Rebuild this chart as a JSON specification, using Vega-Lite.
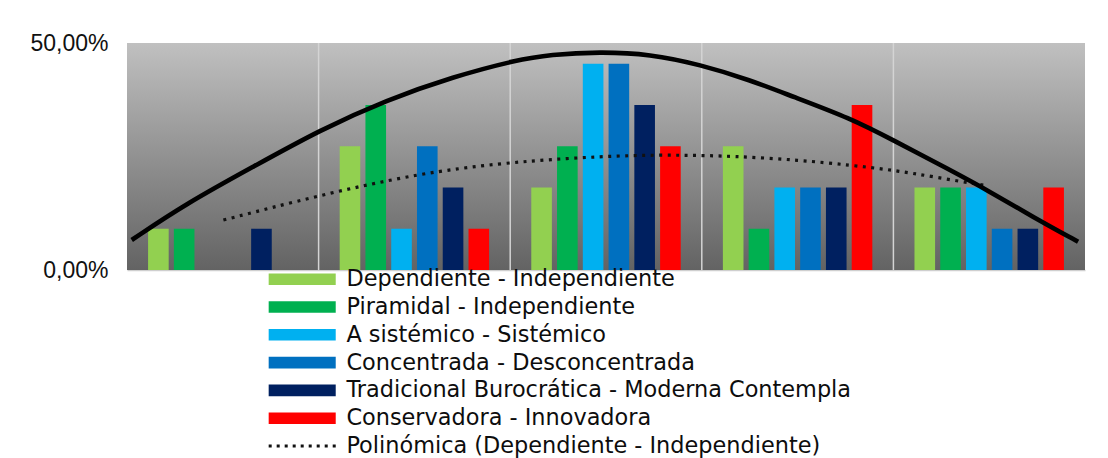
{
  "$schema": "https://vega.github.io/schema/vega-lite/v6.json",
  "width": 958,
  "height": 227,
  "autosize": {"type": "none"},
  "padding": {"left": 127, "top": 43, "right": 23, "bottom": 188},
  "background": "white",
  "config": {"view": {"stroke": null}, "font": "Liberation Sans"},
  "datasets": {
    "barras": [
      {"grupo": "1", "serie": "Dependiente - Independiente", "valor": 0.0909},
      {"grupo": "1", "serie": "Piramidal - Independiente", "valor": 0.0909},
      {"grupo": "1", "serie": "A sistémico - Sistémico", "valor": 0},
      {"grupo": "1", "serie": "Concentrada - Desconcentrada", "valor": 0},
      {"grupo": "1", "serie": "Tradicional Burocrática - Moderna Contempla", "valor": 0.0909},
      {"grupo": "1", "serie": "Conservadora - Innovadora", "valor": 0},
      {"grupo": "2", "serie": "Dependiente - Independiente", "valor": 0.2727},
      {"grupo": "2", "serie": "Piramidal - Independiente", "valor": 0.3636},
      {"grupo": "2", "serie": "A sistémico - Sistémico", "valor": 0.0909},
      {"grupo": "2", "serie": "Concentrada - Desconcentrada", "valor": 0.2727},
      {"grupo": "2", "serie": "Tradicional Burocrática - Moderna Contempla", "valor": 0.1818},
      {"grupo": "2", "serie": "Conservadora - Innovadora", "valor": 0.0909},
      {"grupo": "3", "serie": "Dependiente - Independiente", "valor": 0.1818},
      {"grupo": "3", "serie": "Piramidal - Independiente", "valor": 0.2727},
      {"grupo": "3", "serie": "A sistémico - Sistémico", "valor": 0.4545},
      {"grupo": "3", "serie": "Concentrada - Desconcentrada", "valor": 0.4545},
      {"grupo": "3", "serie": "Tradicional Burocrática - Moderna Contempla", "valor": 0.3636},
      {"grupo": "3", "serie": "Conservadora - Innovadora", "valor": 0.2727},
      {"grupo": "4", "serie": "Dependiente - Independiente", "valor": 0.2727},
      {"grupo": "4", "serie": "Piramidal - Independiente", "valor": 0.0909},
      {"grupo": "4", "serie": "A sistémico - Sistémico", "valor": 0.1818},
      {"grupo": "4", "serie": "Concentrada - Desconcentrada", "valor": 0.1818},
      {"grupo": "4", "serie": "Tradicional Burocrática - Moderna Contempla", "valor": 0.1818},
      {"grupo": "4", "serie": "Conservadora - Innovadora", "valor": 0.3636},
      {"grupo": "5", "serie": "Dependiente - Independiente", "valor": 0.1818},
      {"grupo": "5", "serie": "Piramidal - Independiente", "valor": 0.1818},
      {"grupo": "5", "serie": "A sistémico - Sistémico", "valor": 0.1818},
      {"grupo": "5", "serie": "Concentrada - Desconcentrada", "valor": 0.0909},
      {"grupo": "5", "serie": "Tradicional Burocrática - Moderna Contempla", "valor": 0.0909},
      {"grupo": "5", "serie": "Conservadora - Innovadora", "valor": 0.1818}
    ],
    "fondo": [{"u0": 0, "u1": 5, "v0": 0, "v1": 0.5}],
    "rejilla": [{"u": 1}, {"u": 2}, {"u": 3}, {"u": 4}],
    "curva": [
      {"u": 0.0245, "v": 0.0661},
      {"u": 0.312, "v": 0.147},
      {"u": 0.659, "v": 0.2275},
      {"u": 1.007, "v": 0.3084},
      {"u": 1.355, "v": 0.3744},
      {"u": 1.703, "v": 0.4258},
      {"u": 2.034, "v": 0.4626},
      {"u": 2.208, "v": 0.4746},
      {"u": 2.469, "v": 0.4806},
      {"u": 2.73, "v": 0.4756},
      {"u": 2.991, "v": 0.4525},
      {"u": 3.252, "v": 0.4185},
      {"u": 3.476, "v": 0.3817},
      {"u": 3.773, "v": 0.3348},
      {"u": 3.998, "v": 0.2863},
      {"u": 4.295, "v": 0.2203},
      {"u": 4.489, "v": 0.1762},
      {"u": 4.729, "v": 0.1167},
      {"u": 4.964, "v": 0.0623}
    ],
    "polinomica": [
      {"u": 0.503, "v": 0.11},
      {"u": 1.007, "v": 0.165},
      {"u": 1.529, "v": 0.213},
      {"u": 1.947, "v": 0.235},
      {"u": 2.295, "v": 0.246},
      {"u": 2.641, "v": 0.253},
      {"u": 2.902, "v": 0.253},
      {"u": 3.163, "v": 0.251},
      {"u": 3.513, "v": 0.242},
      {"u": 3.773, "v": 0.231},
      {"u": 3.998, "v": 0.22},
      {"u": 4.207, "v": 0.2055},
      {"u": 4.494, "v": 0.185}
    ]
  },
  "layer": [
    {
      "data": {"name": "fondo"},
      "mark": {
        "type": "rect",
        "color": {
          "gradient": "linear",
          "x1": 0, "y1": 0, "x2": 0, "y2": 1,
          "stops": [
            {"offset": 0, "color": "#c0c0c0"},
            {"offset": 1, "color": "#636363"}
          ]
        }
      },
      "encoding": {
        "x": {"field": "u0", "type": "quantitative", "scale": {"domain": [0, 5], "nice": false, "zero": false}, "axis": null},
        "x2": {"field": "u1"},
        "y": {"field": "v0", "type": "quantitative", "scale": {"domain": [0, 0.5], "nice": false}, "axis": {
          "values": [0, 0.5],
          "title": null,
          "grid": false,
          "ticks": false,
          "domain": false,
          "labelFont": "Liberation Sans",
          "labelFontSize": 23,
          "labelColor": "#111111",
          "labelPadding": 19,
          "labelExpr": "replace(format(datum.value, '.2%'), '.', ',')"
        }},
        "y2": {"field": "v1"}
      }
    },
    {
      "data": {"name": "rejilla"},
      "mark": {"type": "rule", "color": "#d4d4d4", "strokeWidth": 1.5},
      "encoding": {
        "x": {"field": "u", "type": "quantitative", "scale": {"domain": [0, 5], "nice": false, "zero": false}, "axis": null}
      }
    },
    {
      "data": {"name": "barras"},
      "mark": {"type": "bar"},
      "encoding": {
        "x": {
          "field": "grupo", "type": "nominal",
          "scale": {"paddingInner": 0.22, "paddingOuter": 0.11},
          "axis": {"title": null, "labels": false, "ticks": false, "domainColor": "#cfcfcf", "domainWidth": 1.5}
        },
        "xOffset": {
          "field": "serie", "type": "nominal",
          "scale": {
            "domain": ["Dependiente - Independiente", "Piramidal - Independiente", "A sistémico - Sistémico", "Concentrada - Desconcentrada", "Tradicional Burocrática - Moderna Contempla", "Conservadora - Innovadora"],
            "paddingInner": 0.2, "paddingOuter": 0
          }
        },
        "y": {"field": "valor", "type": "quantitative"},
        "color": {
          "field": "serie", "type": "nominal",
          "scale": {
            "domain": ["Dependiente - Independiente", "Piramidal - Independiente", "A sistémico - Sistémico", "Concentrada - Desconcentrada", "Tradicional Burocrática - Moderna Contempla", "Conservadora - Innovadora", "Polinómica (Dependiente - Independiente)"],
            "range": ["#92d050", "#00b050", "#00b0f0", "#0070c0", "#002060", "#ff0000", "#111111"]
          },
          "legend": {
            "orient": "none",
            "legendX": 164,
            "legendY": 225,
            "title": null,
            "direction": "vertical",
            "padding": 0,
            "symbolSize": 134.56,
            "symbolType": "M-5.78,-1H5.78V1H-5.78Z",
            "symbolStrokeWidth": 0,
            "labelFont": "DejaVu Sans",
            "labelFontSize": 22.4,
            "labelColor": "#0d0d0d",
            "labelOffset": 33,
            "labelLimit": 1000,
            "rowPadding": 4.8,
            "encode": {
              "symbols": {
                "update": {
                  "shape": {"signal": "datum.value === 'Polinómica (Dependiente - Independiente)' ? 'M-5.78,-0.26h0.52v0.52h-0.52Z M-4.4,-0.26h0.52v0.52h-0.52Z M-3.02,-0.26h0.52v0.52h-0.52Z M-1.64,-0.26h0.52v0.52h-0.52Z M-0.26,-0.26h0.52v0.52h-0.52Z M1.12,-0.26h0.52v0.52h-0.52Z M2.5,-0.26h0.52v0.52h-0.52Z M3.88,-0.26h0.52v0.52h-0.52Z M5.26,-0.26h0.52v0.52h-0.52Z' : 'M-5.78,-1H5.78V1H-5.78Z'"}
                }
              }
            }
          }
        }
      }
    },
    {
      "data": {"name": "polinomica"},
      "mark": {"type": "line", "color": "#111111", "strokeWidth": 3.2, "strokeDash": [3, 5.5], "interpolate": "basis"},
      "encoding": {
        "x": {"field": "u", "type": "quantitative", "scale": {"domain": [0, 5], "nice": false, "zero": false}, "axis": null},
        "y": {"field": "v", "type": "quantitative"}
      }
    },
    {
      "data": {"name": "curva"},
      "mark": {"type": "line", "color": "#000000", "strokeWidth": 4.6, "interpolate": "basis"},
      "encoding": {
        "x": {"field": "u", "type": "quantitative", "scale": {"domain": [0, 5], "nice": false, "zero": false}, "axis": null},
        "y": {"field": "v", "type": "quantitative"}
      }
    }
  ],
  "resolve": {"scale": {"x": "independent"}}
}
